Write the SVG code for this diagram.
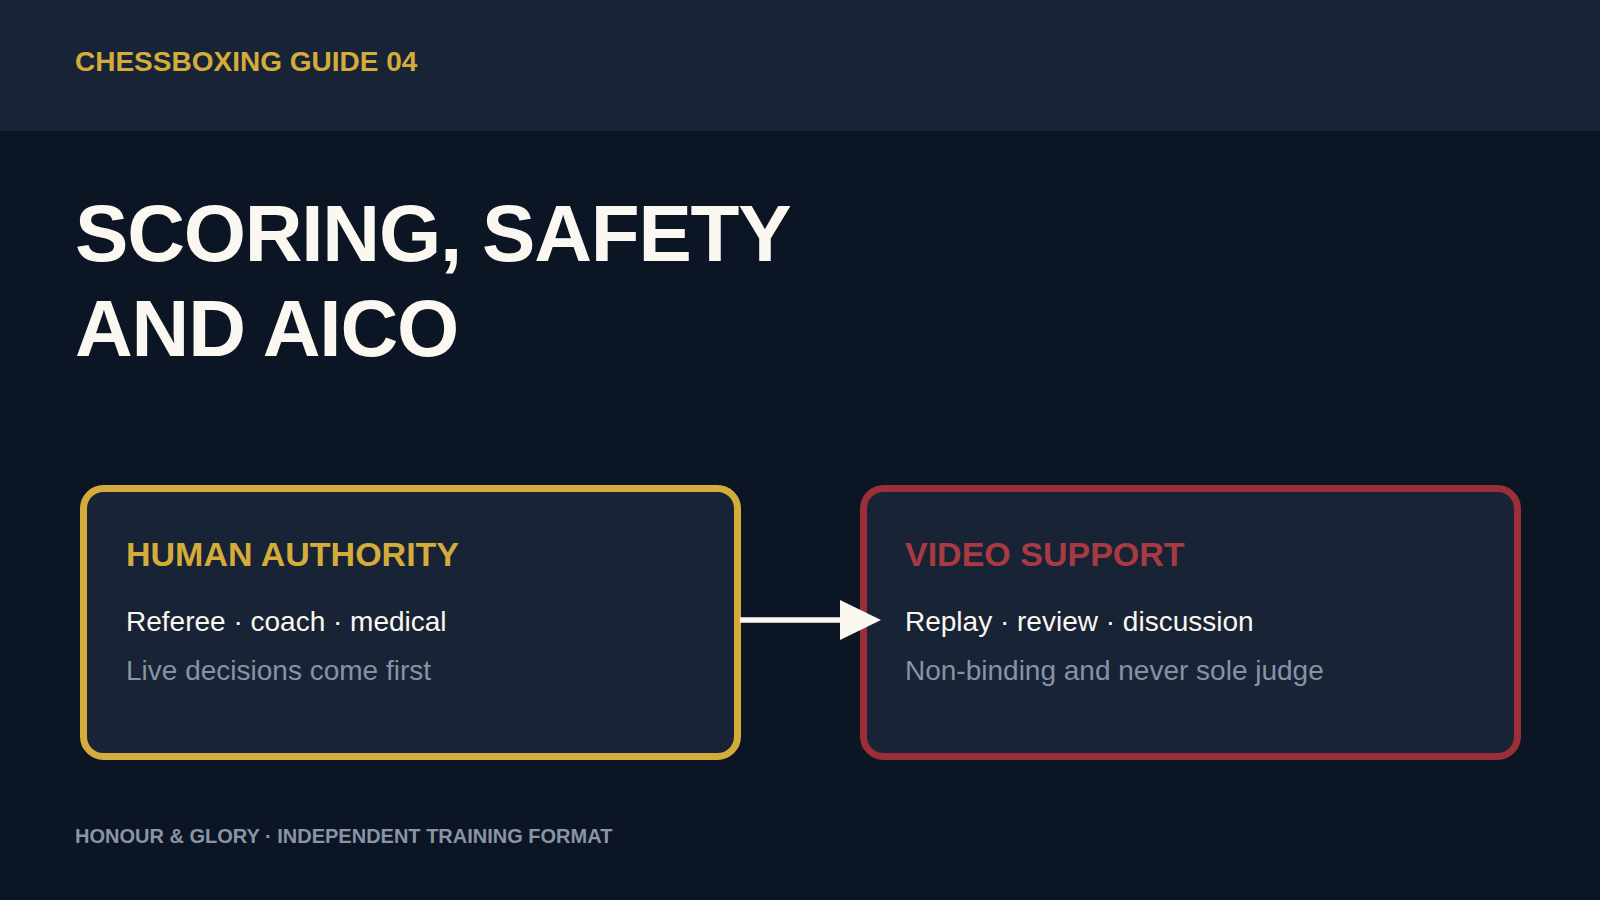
<svg xmlns="http://www.w3.org/2000/svg" width="1600" height="900" viewBox="0 0 1600 900">
  <defs>
    <style>
      .sans { font-family: "Liberation Sans", Arial, sans-serif; }
      .kicker { font-size: 28px; font-weight: 700; fill: #d4ac3c; }
      .title { font-size: 80px; font-weight: 700; fill: #faf8f0; letter-spacing: -1.2px; }
      .box { fill: #182335; stroke-width: 7; }
      .head { font-size: 34px; font-weight: 700; }
      .line1 { font-size: 28px; fill: #faf8f0; }
      .line2 { font-size: 28px; fill: #8792a4; }
      .foot { font-size: 20px; font-weight: 700; fill: #8a94a6; }
    </style>
    <marker id="arrowhead" markerUnits="userSpaceOnUse" markerWidth="42" markerHeight="42" refX="0" refY="20" orient="auto">
      <polygon points="0,0 41,20 0,40" fill="#faf8f0"/>
    </marker>
  </defs>
  <rect x="0" y="0" width="1600" height="900" fill="#0c1524"/>
  <rect x="0" y="0" width="1600" height="131" fill="#182335"/>
  <text class="sans kicker" x="75" y="71">CHESSBOXING GUIDE 04</text>
  <text class="sans title" x="75" y="261">SCORING, SAFETY</text>
  <text class="sans title" x="75" y="356">AND AICO</text>

  <g id="node-human">
    <rect class="box" x="83.5" y="488.5" width="654" height="268" rx="20" stroke="#d4ac3c"/>
    <text class="sans head" x="126" y="566" fill="#d4ac3c">HUMAN AUTHORITY</text>
    <text class="sans line1" x="126" y="631">Referee · coach · medical</text>
    <text class="sans line2" x="126" y="680">Live decisions come first</text>
  </g>

  <g id="node-video">
    <rect class="box" x="863.5" y="488.5" width="654" height="268" rx="20" stroke="#9a2f38"/>
    <text class="sans head" x="905" y="566" fill="#a83a42">VIDEO SUPPORT</text>
    <text class="sans line1" x="905" y="631">Replay · review · discussion</text>
    <text class="sans line2" x="905" y="680">Non-binding and never sole judge</text>
  </g>

  <g id="connectors">
    <line x1="740" y1="620" x2="840" y2="620" stroke="#faf8f0" stroke-width="5.5" marker-end="url(#arrowhead)"/>
  </g>

  <text class="sans foot" x="75" y="843">HONOUR &amp; GLORY · INDEPENDENT TRAINING FORMAT</text>
</svg>
